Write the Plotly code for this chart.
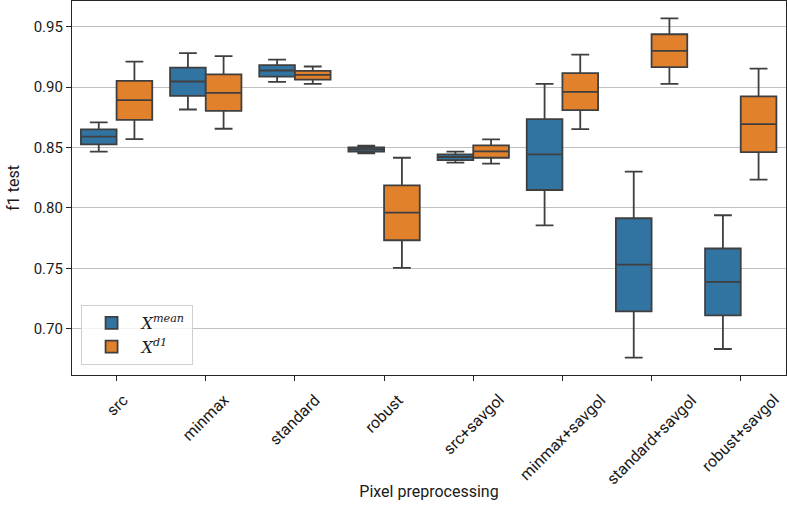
import plotly.graph_objects as go

categories = ["src", "minmax", "standard", "robust", "src+savgol",
              "minmax+savgol", "standard+savgol", "robust+savgol"]

# X^mean series (blue)
mean_lower = [0.8465, 0.8814, 0.9043, 0.8451, 0.8374, 0.7856, 0.6760, 0.6832]
mean_q1    = [0.8525, 0.8927, 0.9087, 0.8465, 0.8396, 0.8148, 0.7143, 0.7110]
mean_med   = [0.8589, 0.9046, 0.9137, 0.8484, 0.8421, 0.8443, 0.7531, 0.7388]
mean_q3    = [0.8649, 0.9161, 0.9181, 0.8501, 0.8443, 0.8735, 0.7914, 0.7664]
mean_upper = [0.8707, 0.9280, 0.9227, 0.8514, 0.8465, 0.9026, 0.8300, 0.7939]

# X^d1 series (orange)
d1_lower = [0.8569, 0.8655, 0.9026, 0.7504, 0.8366, 0.8652, 0.9026, 0.8234]
d1_q1    = [0.8729, 0.8803, 0.9062, 0.7732, 0.8415, 0.8809, 0.9164, 0.8462]
d1_med   = [0.8892, 0.8952, 0.9101, 0.7961, 0.8468, 0.8960, 0.9299, 0.8693]
d1_q3    = [0.9051, 0.9104, 0.9134, 0.8187, 0.8517, 0.9115, 0.9437, 0.8922]
d1_upper = [0.9211, 0.9255, 0.9170, 0.8415, 0.8567, 0.9269, 0.9569, 0.9153]

y_ticks = [0.70, 0.75, 0.80, 0.85, 0.90, 0.95]

BLUE = "#3274a1"
ORANGE = "#e1812c"
EDGE = "#3f3f3f"
FONT = "Roboto"

fig = go.Figure()
fig.add_trace(go.Box(
    name="<i>X</i><sup><i>mean</i></sup>", x=categories,
    q1=mean_q1, median=mean_med, q3=mean_q3,
    lowerfence=mean_lower, upperfence=mean_upper,
    fillcolor=BLUE, line=dict(color=EDGE, width=1.8),
    whiskerwidth=0.5, boxpoints=False, opacity=1,
))
fig.add_trace(go.Box(
    name="<i>X</i><sup><i>d1</i></sup>", x=categories,
    q1=d1_q1, median=d1_med, q3=d1_q3,
    lowerfence=d1_lower, upperfence=d1_upper,
    fillcolor=ORANGE, line=dict(color=EDGE, width=1.8),
    whiskerwidth=0.5, boxpoints=False, opacity=1,
))

# category labels, rotated 45 degrees and centred under each tick
for c in categories:
    fig.add_annotation(
        x=c, xref="x", y=-0.034, yref="paper",
        text=c, textangle=-45, showarrow=False,
        xanchor="center", yanchor="top",
        font=dict(family=FONT, size=16, color="#1a1a1a"),
    )

fig.update_layout(
    width=787, height=508,
    margin=dict(l=72, r=1, t=1, b=133),
    paper_bgcolor="white", plot_bgcolor="white",
    boxmode="group", boxgap=0.2, boxgroupgap=0,
    font=dict(family=FONT, size=14, color="#1a1a1a"),
    showlegend=True,
    legend=dict(
        x=0.012, y=0.027, xanchor="left", yanchor="bottom",
        bgcolor="rgba(255,255,255,0.8)", bordercolor="#d0d0d0", borderwidth=1,
        font=dict(family="DejaVu Serif", size=16),
        itemwidth=50, tracegroupgap=0,
    ),
)
fig.update_xaxes(
    type="category", categoryorder="array", categoryarray=categories,
    showticklabels=False,
    title=dict(text="Pixel preprocessing", font=dict(size=16), standoff=105),
    ticks="outside", ticklen=5, tickwidth=1.2, tickcolor="#262626",
    showline=True, linecolor="#262626", linewidth=1.2, mirror=True,
    showgrid=False,
)
fig.update_yaxes(
    range=[0.6617, 0.9712], tickvals=y_ticks,
    tickformat=".2f",
    title=dict(text="f1 test", font=dict(size=16), standoff=10),
    ticks="outside", ticklen=5, tickwidth=1.2, tickcolor="#262626",
    showline=True, linecolor="#262626", linewidth=1.2, mirror=True,
    showgrid=True, gridcolor="#c0c0c0", gridwidth=1.2, zeroline=False,
    tickfont=dict(size=15),
)

fig.write_html("out.html")
